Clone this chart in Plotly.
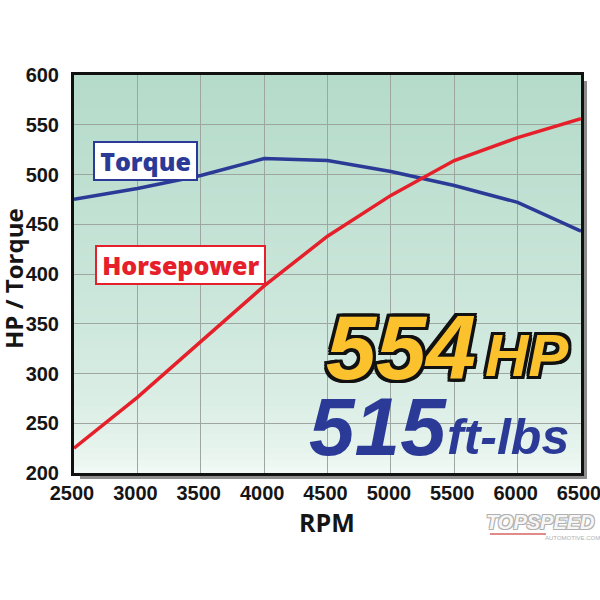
import plotly.graph_objects as go

rpm = [2500, 3000, 3500, 4000, 4500, 5000, 5500, 6000, 6500]
torque = [475, 486, 499, 516, 514, 503, 489, 472, 443]
horsepower = [225, 276, 332, 388, 438, 479, 514, 537, 556]

x_ticks = [2500, 3000, 3500, 4000, 4500, 5000, 5500, 6000, 6500]
y_ticks = [200, 250, 300, 350, 400, 450, 500, 550, 600]

W, H = 600, 600
ML, MR, MT, MB = 74, 19, 75, 127
PW, PH = W - ML - MR, H - MT - MB

fig = go.Figure()
fig.add_trace(go.Scatter(x=rpm, y=torque, mode="lines", name="Torque",
                         line=dict(color="#2b3a96", width=3.5), hoverinfo="x+y"))
fig.add_trace(go.Scatter(x=rpm, y=horsepower, mode="lines", name="Horsepower",
                         line=dict(color="#e5202b", width=3.5), hoverinfo="x+y"))


def px(x):
    return (x - ML) / PW


def py(y):
    return (H - MB - y) / PH


shapes = []
# drop shadow of the plot frame
sx, sy = 6 / PW, 6 / PH
shapes.append(dict(type="rect", xref="paper", yref="paper", x0=sx, x1=1 + sx,
                   y0=-sy, y1=1 - sy, fillcolor="#8c8c8c", line=dict(width=0),
                   layer="below"))
# vertical gradient background
top = (181, 219, 202)
bot = (247, 252, 250)
N = 60
for i in range(N):
    t0 = i / N
    t1 = (i + 1) / N
    tm = ((t0 + t1) / 2) ** 0.5
    c = tuple(round(bot[k] + (top[k] - bot[k]) * tm) for k in range(3))
    shapes.append(dict(type="rect", xref="paper", yref="paper", x0=0, x1=1,
                       y0=t0 - 0.001, y1=t1 + 0.001,
                       fillcolor="rgb(%d,%d,%d)" % c, line=dict(width=0),
                       layer="below"))
# watermark underline
shapes.append(dict(type="line", xref="paper", yref="paper", x0=px(490), x1=px(546),
                   y0=py(534), y1=py(534), line=dict(color="#e08a8a", width=2)))

outline = ", ".join("%dpx %dpx 0 #111" % (a, b) for a, b in
                    [(-3, -3), (3, -3), (-3, 3), (3, 3), (0, 3), (0, -3), (3, 0), (-3, 0),
                     (-2, 3), (2, 3), (2, -3), (-2, -3)])

big = "Liberation Sans"
annotations = [
    dict(text="&#8201;Torque&#8201;", x=3068, y=514, xref="x", yref="y", showarrow=False,
         xanchor="center", yanchor="middle",
         font=dict(family="Open Sans", size=25, color="#2b3a96", weight=800),
         bgcolor="white", bordercolor="#2b3a96", borderwidth=2, borderpad=1),
    dict(text="&#8201;Horsepower&#8201;", x=3340, y=409.5, xref="x", yref="y", showarrow=False,
         xanchor="center", yanchor="middle",
         font=dict(family="Open Sans", size=25, color="#e5202b", weight=800),
         bgcolor="white", bordercolor="#e5202b", borderwidth=2, borderpad=1),
    dict(text="<i><b>554</b></i>", x=px(401), y=py(348), xref="paper", yref="paper",
         showarrow=False, xanchor="center", yanchor="middle",
         font=dict(family=big, size=90, color="#fcc22e", shadow=outline)),
    dict(text="<i><b>HP</b></i>", x=px(527), y=py(355), xref="paper", yref="paper",
         showarrow=False, xanchor="center", yanchor="middle",
         font=dict(family=big, size=60, color="#fcc22e", shadow=outline)),
    dict(text="<i><b>515</b></i>", x=px(378), y=py(426), xref="paper", yref="paper",
         showarrow=False, xanchor="center", yanchor="middle",
         font=dict(family=big, size=82, color="#2b3a96")),
    dict(text="<i><b>ft-lbs</b></i>", x=px(508), y=py(437), xref="paper", yref="paper",
         showarrow=False, xanchor="center", yanchor="middle",
         font=dict(family=big, size=50, color="#2b3a96")),
    dict(text="<i><b>TOPSPEED</b></i>", x=px(540), y=py(522), xref="paper", yref="paper",
         showarrow=False, xanchor="center", yanchor="middle",
         font=dict(family=big, size=20, color="#f6f6f6",
                   shadow="1px 1px 0 #b0b0b0, -1px -1px 0 #b0b0b0, 1px -1px 0 #b0b0b0, -1px 1px 0 #b0b0b0")),
    dict(text="AUTOMOTIVE.COM", x=px(572), y=py(538), xref="paper", yref="paper",
         showarrow=False, xanchor="center", yanchor="middle",
         font=dict(family=big, size=6, color="#b0b0b0")),
    # axis titles
    dict(text="<b>HP / Torque</b>", x=px(13), y=py(279), xref="paper", yref="paper",
         showarrow=False, xanchor="center", yanchor="middle", textangle=-90,
         font=dict(family="Open Sans", size=24, color="#151515")),
    dict(text="<b>RPM</b>", x=px(327), y=py(522), xref="paper", yref="paper",
         showarrow=False, xanchor="center", yanchor="middle",
         font=dict(family="Open Sans", size=25, color="#151515")),
]

tickfont = dict(family="Liberation Sans", size=20, color="#151515", weight="bold")

fig.update_layout(
    width=W, height=H,
    margin=dict(l=ML, r=MR, t=MT, b=MB, pad=0),
    paper_bgcolor="white",
    plot_bgcolor="rgba(0,0,0,0)",
    showlegend=False,
    shapes=shapes,
    annotations=annotations,
    xaxis=dict(range=[2500, 6500], tickvals=x_ticks, ticktext=[str(v) for v in x_ticks],
               automargin=False,
               showgrid=True, gridcolor="#9ea6a2", gridwidth=1,
               showline=True, linecolor="#111", linewidth=3, mirror=True,
               ticks="", ticklabeloverflow="allow", ticklabelshift=-2,
               tickfont=tickfont, zeroline=False),
    yaxis=dict(range=[200, 600], tickvals=y_ticks, ticktext=[str(v) for v in y_ticks],
               automargin=False,
               showgrid=True, gridcolor="#9ea6a2", gridwidth=1,
               showline=True, linecolor="#111", linewidth=3, mirror=True,
               ticks="outside", ticklen=8, tickcolor="rgba(0,0,0,0)",
               tickfont=tickfont, zeroline=False),
)

fig.write_html("out.html", config={"displayModeBar": False},
               post_script="document.body.style.margin='0';")
